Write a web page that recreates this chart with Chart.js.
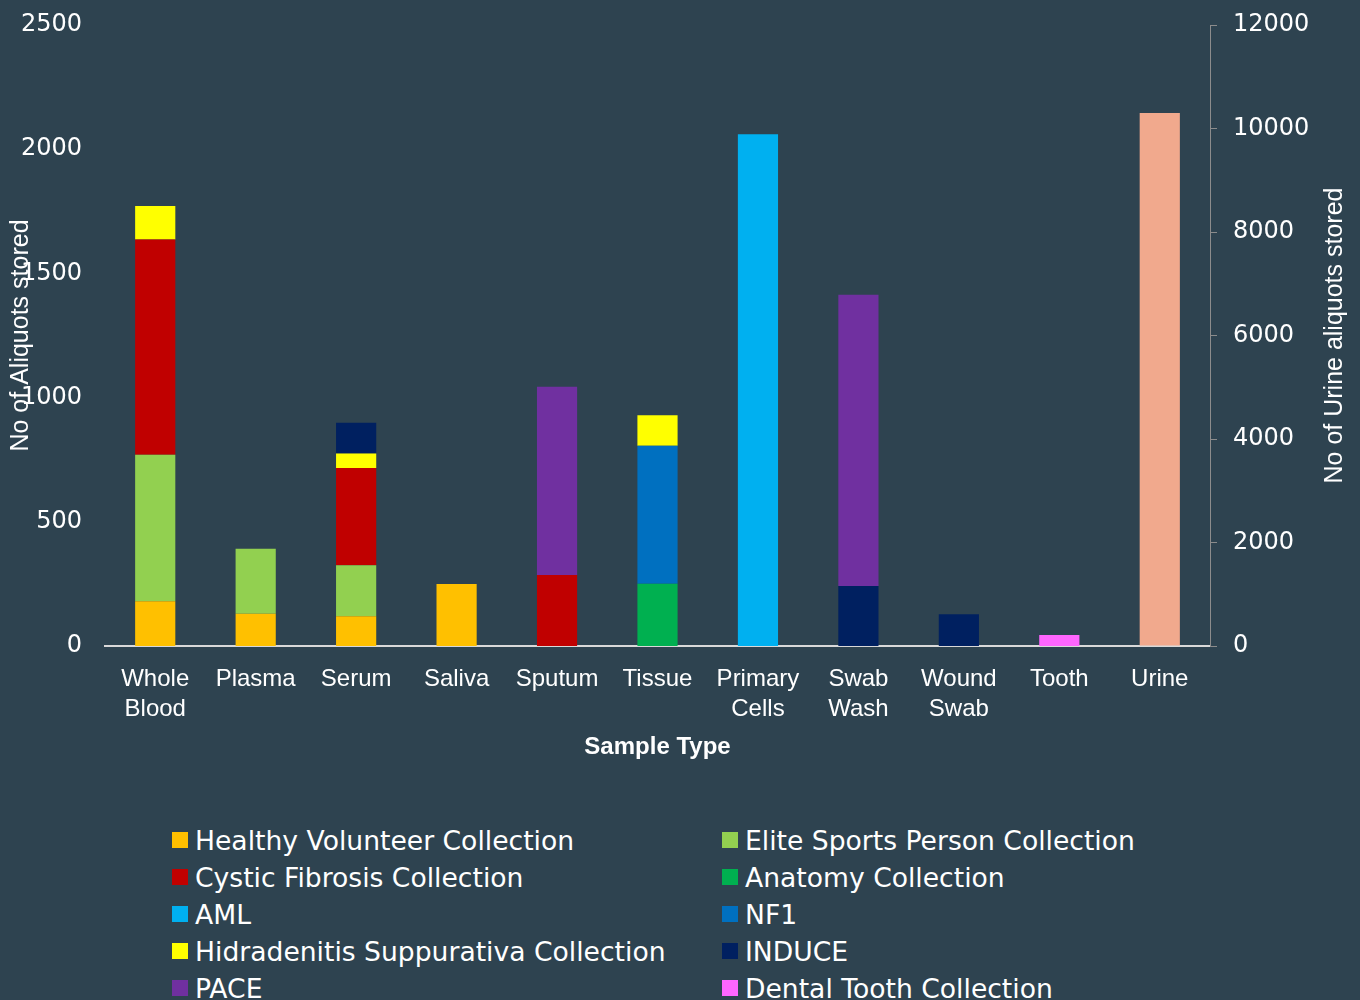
<!DOCTYPE html>
<html>
<head>
<meta charset="utf-8">
<script src="https://cdn.jsdelivr.net/npm/chart.js@4/dist/chart.umd.min.js"></script>
<style>
  html, body { margin: 0; padding: 0; background: #2E4350; width: 1360px; height: 1000px; overflow: hidden; }
  #wrap { position: absolute; left: 0; top: 0; width: 1360px; height: 770px; }
  #legend { position: absolute; left: 0; top: 822px; width: 1360px; font-family: "DejaVu Sans", sans-serif; font-size: 26.6px; color: #fff; }
  .item { position: absolute; height: 37px; line-height: 37px; white-space: nowrap; }
  .box { position: absolute; top: 10px; width: 16px; height: 16px; }
  .lbl { position: absolute; top: 0; }
</style>
</head>
<body>
<div id="wrap"><canvas id="c"></canvas></div>
<div id="legend"></div>
<script>
const categories = [['Whole','Blood'], 'Plasma', 'Serum', 'Saliva', 'Sputum', 'Tissue', ['Primary','Cells'], ['Swab','Wash'], ['Wound','Swab'], 'Tooth', 'Urine'];

const healthyVolunteer = [180, 130, 120, 250, null, null, null, null, null, null, null];
const eliteSports      = [590, 262, 205, null, null, null, null, null, null, null, null];
const cysticFibrosis   = [866, null, 392, null, 286, null, null, null, null, null, null];
const anatomy          = [null, null, null, null, null, 251, null, null, null, null, null];
const aml              = [null, null, null, null, null, null, 2060, null, null, null, null];
const nf1              = [null, null, null, null, null, 555, null, null, null, null, null];
const hidradenitis     = [135, null, 58, null, null, 123, null, null, null, null, null];
const induce           = [null, null, 124, null, null, null, null, 242, 128, null, null];
const pace             = [null, null, null, null, 758, null, null, 1172, null, null, null];
const dentalTooth      = [null, null, null, null, null, null, null, null, null, 44, null];
const urine            = [null, null, null, null, null, null, null, null, null, null, 10300];

const leftTicks = [0, 500, 1000, 1500, 2000, 2500];
const rightTicks = [0, 2000, 4000, 6000, 8000, 10000, 12000];

const seriesNames = ['Healthy Volunteer Collection', 'Elite Sports Person Collection', 'Cystic Fibrosis Collection', 'Anatomy Collection', 'AML', 'NF1', 'Hidradenitis Suppurativa Collection', 'INDUCE', 'PACE', 'Dental Tooth Collection'];
const seriesData = [healthyVolunteer, eliteSports, cysticFibrosis, anatomy, aml, nf1, hidradenitis, induce, pace, dentalTooth];
const seriesColors = ['#FFC000', '#92D050', '#C00000', '#00B050', '#00B0F0', '#0070C0', '#FFFF00', '#002060', '#7030A0', '#FF66FF'];

const datasets = seriesNames.map((n, i) => ({
  label: n, data: seriesData[i], backgroundColor: seriesColors[i], yAxisID: 'y', borderWidth: 0
}));
datasets.push({ label: 'Urine', data: urine, backgroundColor: '#F1A98D', yAxisID: 'y2', borderWidth: 0 });

const rightTitle = {
  id: 'rightTitle',
  afterDraw(chart) {
    const ctx = chart.ctx;
    const a = chart.chartArea;
    ctx.save();
    ctx.translate(1335, (a.top + a.bottom) / 2);
    ctx.rotate(-Math.PI / 2);
    ctx.fillStyle = '#FFFFFF';
    ctx.font = '25px "Liberation Sans", Arial, sans-serif';
    ctx.textAlign = 'center';
    ctx.textBaseline = 'middle';
    ctx.fillText('No of Urine aliquots stored', 0, 0);
    ctx.restore();
  }
};

const tickFont = { family: '"DejaVu Sans", sans-serif', size: 24 };
const plain = (v) => String(v);

new Chart(document.getElementById('c'), {
  type: 'bar',
  data: { labels: categories, datasets },
  plugins: [rightTitle],
  options: {
    responsive: true,
    maintainAspectRatio: false,
    animation: false,
    layout: { padding: { left: 6, right: 0, top: 25, bottom: 8 } },
    plugins: { legend: { display: false }, tooltip: { enabled: false } },
    datasets: { bar: { categoryPercentage: 1.0, barPercentage: 0.4 } },
    scales: {
      x: {
        stacked: true,
        grid: { display: false, drawTicks: false },
        border: { display: true, color: '#D9D9D9', width: 2 },
        ticks: { color: '#FFFFFF', padding: 18, maxRotation: 0, autoSkip: false,
                 font: { family: '"Liberation Sans", Arial, sans-serif', size: 24, lineHeight: 1.25 } },
        title: { display: true, text: 'Sample Type', color: '#FFFFFF', padding: { top: 0, bottom: 0 },
                 font: { family: '"Liberation Sans", Arial, sans-serif', size: 24, weight: 'bold', lineHeight: 1.2 } },
        afterFit(s) { s.height = 116; s.paddingLeft = 0; s.paddingRight = 0; }
      },
      y: {
        position: 'left',
        stacked: true,
        min: 0, max: 2500,
        afterBuildTicks(s) { s.ticks = leftTicks.map(v => ({ value: v })); },
        grid: { display: false, drawTicks: false },
        border: { display: false },
        ticks: { color: '#FFFFFF', padding: 23, font: tickFont, callback: plain },
        title: { display: true, text: 'No of Aliquots stored', color: '#FFFFFF', padding: { top: 0, bottom: 0 },
                 font: { family: '"Liberation Sans", Arial, sans-serif', size: 25, lineHeight: 1.2 } },
        afterFit(s) { s.width = 99; s.paddingTop = 0; s.paddingBottom = 0; }
      },
      y2: {
        position: 'right',
        stacked: true,
        min: 0, max: 12000,
        afterBuildTicks(s) { s.ticks = rightTicks.map(v => ({ value: v })); },
        grid: { display: true, drawOnChartArea: false, drawTicks: true, tickLength: 7, color: '#8C8C8C', lineWidth: 1 },
        border: { display: true, color: '#8C8C8C', width: 1 },
        ticks: { color: '#FFFFFF', padding: 16, font: tickFont, callback: plain },
        afterFit(s) { s.width = 150; s.paddingTop = 0; s.paddingBottom = 0; }
      }
    }
  }
});

// HTML legend, two columns, row-major
const legend = document.getElementById('legend');
seriesNames.forEach((n, i) => {
  const col = i % 2, row = Math.floor(i / 2);
  const it = document.createElement('div');
  it.className = 'item';
  it.style.left = (col === 0 ? 172 : 722) + 'px';
  it.style.top = (row * 37) + 'px';
  const b = document.createElement('div');
  b.className = 'box';
  b.style.left = '0px';
  b.style.background = seriesColors[i];
  const t = document.createElement('div');
  t.className = 'lbl';
  t.style.left = '23px';
  t.textContent = n;
  it.appendChild(b); it.appendChild(t);
  legend.appendChild(it);
});
</script>
</body>
</html>
